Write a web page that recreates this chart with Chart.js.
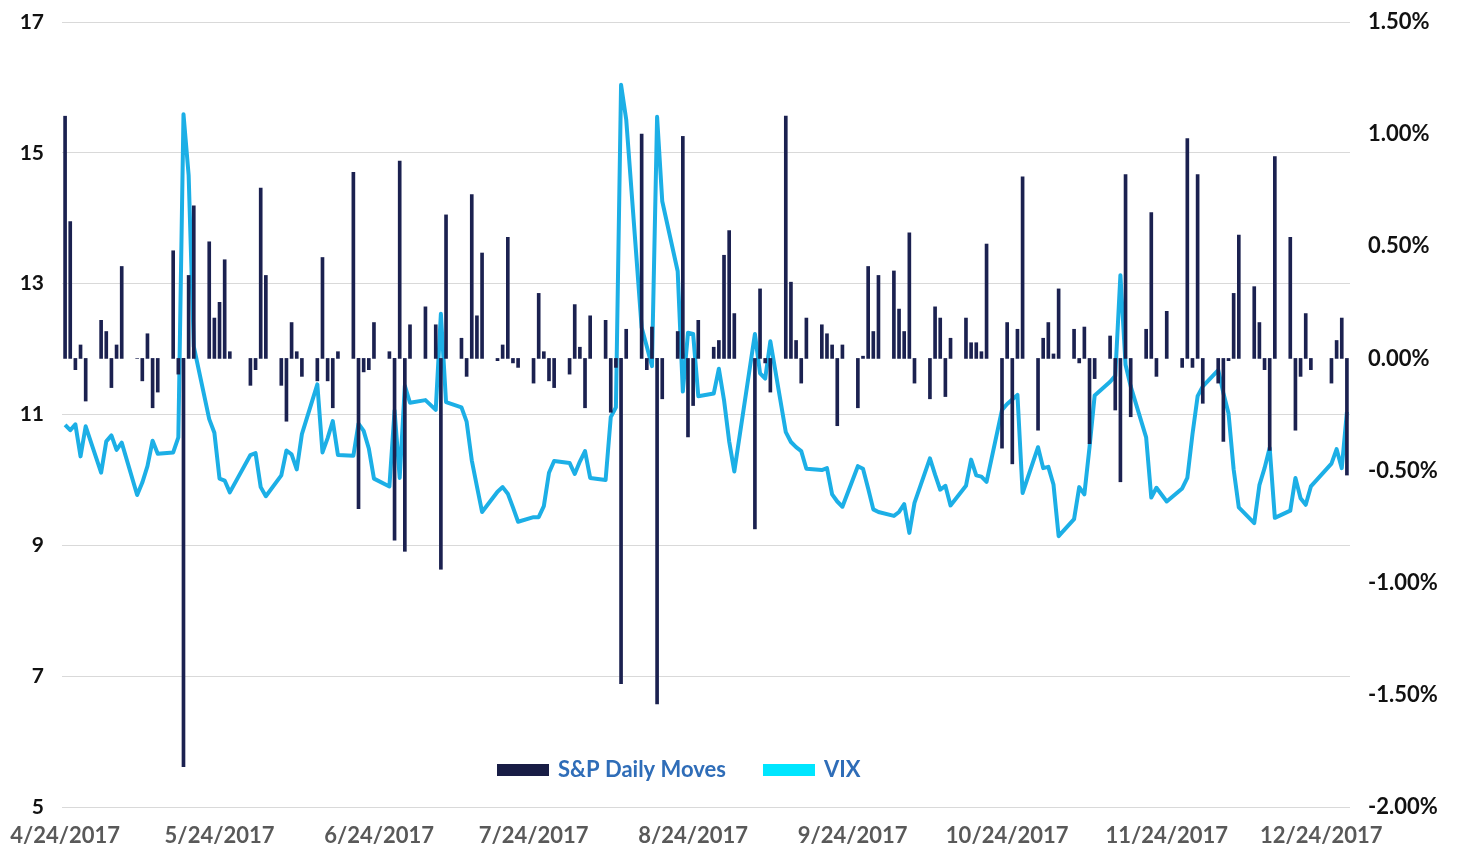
<!DOCTYPE html>
<html>
<head>
<meta charset="utf-8">
<script src="https://cdn.jsdelivr.net/npm/chart.js@4"></script>
<style>
  body { margin: 0; background: #fff; }
  #wrap { width: 1457px; height: 846px; }
</style>
</head>
<body>
<div id="wrap"><canvas id="chart"></canvas></div>
<script>
// trading days 2017 (month/day)
const dates = [
  '4/24','4/25','4/26','4/27','4/28',
  '5/1','5/2','5/3','5/4','5/5','5/8','5/9','5/10','5/11','5/12','5/15','5/16','5/17','5/18','5/19','5/22','5/23','5/24','5/25','5/26','5/30','5/31',
  '6/1','6/2','6/5','6/6','6/7','6/8','6/9','6/12','6/13','6/14','6/15','6/16','6/19','6/20','6/21','6/22','6/23','6/26','6/27','6/28','6/29','6/30',
  '7/3','7/5','7/6','7/7','7/10','7/11','7/12','7/13','7/14','7/17','7/18','7/19','7/20','7/21','7/24','7/25','7/26','7/27','7/28','7/31',
  '8/1','8/2','8/3','8/4','8/7','8/8','8/9','8/10','8/11','8/14','8/15','8/16','8/17','8/18','8/21','8/22','8/23','8/24','8/25','8/28','8/29','8/30','8/31',
  '9/1','9/5','9/6','9/7','9/8','9/11','9/12','9/13','9/14','9/15','9/18','9/19','9/20','9/21','9/22','9/25','9/26','9/27','9/28','9/29',
  '10/2','10/3','10/4','10/5','10/6','10/9','10/10','10/11','10/12','10/13','10/16','10/17','10/18','10/19','10/20','10/23','10/24','10/25','10/26','10/27','10/30','10/31',
  '11/1','11/2','11/3','11/6','11/7','11/8','11/9','11/10','11/13','11/14','11/15','11/16','11/17','11/20','11/21','11/22','11/24','11/27','11/28','11/29','11/30',
  '12/1','12/4','12/5','12/6','12/7','12/8','12/11','12/12','12/13','12/14','12/15','12/18','12/19','12/20','12/21','12/22','12/26','12/27','12/28','12/29'
];

// S&P daily moves, %
const spMoves = [
  1.08, 0.61, -0.05, 0.06, -0.19,
  0.17, 0.12, -0.13, 0.06, 0.41, 0.00, -0.10, 0.11, -0.22, -0.15, 0.48, -0.07, -1.82, 0.37, 0.68, 0.52, 0.18, 0.25, 0.44, 0.03, -0.12, -0.05,
  0.76, 0.37, -0.12, -0.28, 0.16, 0.03, -0.08, -0.10, 0.45, -0.10, -0.22, 0.03, 0.83, -0.67, -0.06, -0.05, 0.16, 0.03, -0.81, 0.88, -0.86, 0.15,
  0.23, 0.15, -0.94, 0.64, 0.09, -0.08, 0.73, 0.19, 0.47, -0.01, 0.06, 0.54, -0.02, -0.04, -0.11, 0.29, 0.03, -0.10, -0.13, -0.07,
  0.24, 0.05, -0.22, 0.19, 0.17, -0.24, -0.04, -1.45, 0.13, 1.00, -0.05, 0.14, -1.54, -0.18, 0.12, 0.99, -0.35, -0.21, 0.17, 0.05, 0.08, 0.46, 0.57,
  0.20, -0.76, 0.31, -0.02, -0.15, 1.08, 0.34, 0.08, -0.11, 0.18, 0.15, 0.11, 0.06, -0.30, 0.06, -0.22, 0.01, 0.41, 0.12, 0.37,
  0.39, 0.22, 0.12, 0.56, -0.11, -0.18, 0.23, 0.18, -0.17, 0.09, 0.18, 0.07, 0.07, 0.03, 0.51, -0.40, 0.16, -0.47, 0.13, 0.81, -0.32, 0.09,
  0.16, 0.02, 0.31, 0.13, -0.02, 0.14, -0.38, -0.09, 0.10, -0.23, -0.55, 0.82, -0.26, 0.13, 0.65, -0.08, 0.21, -0.04, 0.98, -0.04, 0.82,
  -0.20, -0.11, -0.37, -0.01, 0.29, 0.55, 0.32, 0.16, -0.05, -0.41, 0.90, 0.54, -0.32, -0.08, 0.20, -0.05, -0.11, 0.08, 0.18, -0.52
];

// VIX close
const vix = [
  10.84, 10.76, 10.85, 10.36, 10.82,
  10.11, 10.59, 10.68, 10.46, 10.57, 9.77, 9.96, 10.21, 10.60, 10.40, 10.42, 10.65, 15.59, 14.66, 12.04, 10.93, 10.72, 10.02, 9.99, 9.81, 10.38, 10.41,
  9.89, 9.75, 10.07, 10.45, 10.39, 10.16, 10.70, 11.46, 10.42, 10.64, 10.90, 10.38, 10.37, 10.86, 10.75, 10.48, 10.02, 9.90, 11.06, 10.03, 11.44, 11.18,
  11.22, 11.07, 12.54, 11.19, 11.11, 10.89, 10.30, 9.90, 9.51, 9.82, 9.89, 9.79, 9.58, 9.36, 9.43, 9.43, 9.60, 10.11, 10.29, 10.26,
  10.09, 10.28, 10.44, 10.03, 10.00, 10.96, 11.11, 16.04, 15.51, 12.33, 12.04, 11.74, 15.55, 14.26, 13.19, 11.35, 12.25, 12.23, 11.28, 11.32, 11.70, 11.22, 10.59,
  10.13, 12.23, 11.63, 11.55, 12.12, 10.73, 10.58, 10.50, 10.44, 10.17, 10.15, 10.18, 9.78, 9.67, 9.59, 10.21, 10.17, 9.87, 9.55, 9.51,
  9.45, 9.51, 9.63, 9.19, 9.65, 10.33, 10.08, 9.85, 9.91, 9.61, 9.91, 10.31, 10.07, 10.05, 9.97, 11.07, 11.16, 11.23, 11.30, 9.80, 10.50, 10.18,
  10.20, 9.93, 9.14, 9.40, 9.89, 9.78, 10.50, 11.29, 11.50, 11.59, 13.13, 11.76, 11.43, 10.65, 9.73, 9.88, 9.67, 9.87, 10.03, 10.70, 11.28,
  11.43, 11.68, 11.33, 11.02, 10.16, 9.58, 9.34, 9.92, 10.18, 10.49, 9.42, 9.53, 10.03, 9.72, 9.62, 9.90, 10.25, 10.47, 10.18, 11.04
];

const tickLabels = ['4/24/2017', '5/24/2017', '6/24/2017', '7/24/2017', '8/24/2017', '9/24/2017', '10/24/2017', '11/24/2017', '12/24/2017'];

// days since 4/24/2017
const start = new Date(2017, 3, 24);
function dayOf(str) {
  const p = str.split('/');
  const d = new Date(2017, +p[0] - 1, +p[1]);
  return Math.round((d - start) / 86400000);
}
const days = dates.map(dayOf);
const tickDays = tickLabels.map(t => dayOf(t.slice(0, t.lastIndexOf('/'))));

const navy = '#1b2150';
const cyanLine = '#1cafe6';

// legend drawn inside the plot, above the x axis
const innerLegend = {
  id: 'innerLegend',
  afterDraw(chart) {
    const {ctx, chartArea} = chart;
    const items = [
      {text: 'S&P Daily Moves', color: '#181d45'},
      {text: 'VIX', color: '#00e6ff'}
    ];
    ctx.save();
    ctx.font = 'bold 22px Lato';
    ctx.textBaseline = 'middle';
    let x = chartArea.left + 435;
    const y = chartArea.bottom - 37;
    items.forEach(it => {
      ctx.fillStyle = it.color;
      ctx.fillRect(x, y - 6, 52, 12);
      x += 61;
      ctx.fillStyle = '#2f6db8';
      ctx.fillText(it.text, x, y);
      x += ctx.measureText(it.text).width + 37;
    });
    ctx.restore();
  }
};

// keep the plot box fixed, labels may overhang
function noPad(s) {
  s.paddingTop = 0;
  s.paddingBottom = 0;
  s.paddingLeft = 0;
  s.paddingRight = 0;
}

Chart.defaults.font.family = 'Lato';

new Chart(document.getElementById('chart'), {
  type: 'bar',
  data: {
    datasets: [{
      type: 'bar',
      label: 'S&P Daily Moves',
      data: days.map((d, i) => ({x: d, y: spMoves[i]})),
      yAxisID: 'y1',
      backgroundColor: navy,
      barThickness: 3,
      order: 0
    }, {
      type: 'line',
      label: 'VIX',
      data: days.map((d, i) => ({x: d, y: vix[i]})),
      yAxisID: 'y',
      borderColor: cyanLine,
      borderWidth: 4,
      borderJoinStyle: 'round',
      pointRadius: 0,
      tension: 0,
      order: 1
    }]
  },
  options: {
    responsive: true,
    maintainAspectRatio: false,
    animation: false,
    layout: {padding: {top: 22, left: 0, right: 0, bottom: 0}},
    plugins: {
      legend: {display: false},
      tooltip: {enabled: false}
    },
    scales: {
      x: {
        type: 'linear',
        min: -0.6,
        max: 249.6,
        offset: false,
        grid: {display: false},
        border: {display: false},
        afterBuildTicks: axis => { axis.ticks = tickDays.map(v => ({value: v})); },
        afterFit: s => { noPad(s); s.height = 39; },
        ticks: {
          autoSkip: false,
          maxRotation: 0,
          padding: 8,
          color: '#595959',
          font: {size: 22, weight: 'bold'},
          callback: v => tickLabels[tickDays.indexOf(v)]
        }
      },
      y: {
        position: 'left',
        min: 5,
        max: 17,
        grid: {color: '#d9d9d9', drawTicks: false},
        border: {display: false},
        afterFit: s => { noPad(s); s.width = 62; },
        ticks: {
          stepSize: 2,
          padding: 18,
          color: '#111',
          font: {size: 21, weight: 'bold'}
        }
      },
      y1: {
        position: 'right',
        min: -2,
        max: 1.5,
        grid: {display: false, drawTicks: false},
        border: {display: false},
        afterFit: s => { noPad(s); s.width = 107; },
        ticks: {
          stepSize: 0.5,
          padding: 18,
          color: '#111',
          font: {size: 22, weight: 'bold'},
          callback: v => v.toFixed(2) + '%'
        }
      }
    }
  },
  plugins: [innerLegend]
});
</script>
</body>
</html>
